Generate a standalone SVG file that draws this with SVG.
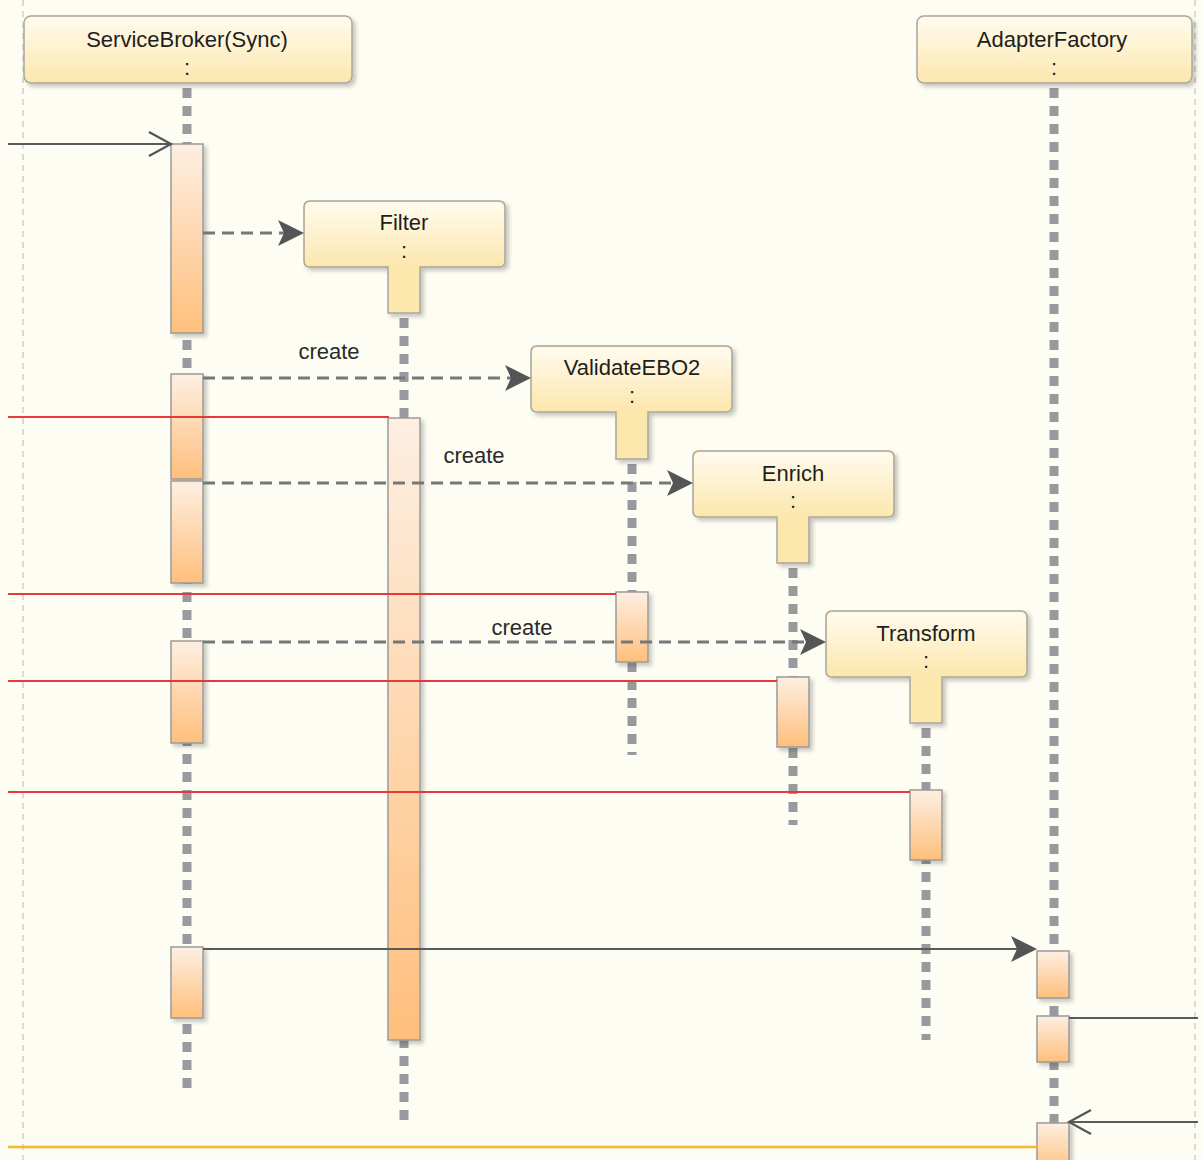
<svg xmlns="http://www.w3.org/2000/svg" width="1203" height="1160" viewBox="0 0 1203 1160">
<defs>
<linearGradient id="gHead" x1="0" y1="0" x2="0" y2="1">
<stop offset="0" stop-color="#FFFBEE"/>
<stop offset="1" stop-color="#FCE7AE"/>
</linearGradient>
<linearGradient id="gAct" x1="0" y1="0" x2="0" y2="1">
<stop offset="0" stop-color="#FDEFE2"/>
<stop offset="1" stop-color="#FFBF7C"/>
</linearGradient>
<filter id="sh" x="-20%" y="-20%" width="150%" height="150%">
<feDropShadow dx="3" dy="3" stdDeviation="2" flood-color="#000" flood-opacity="0.22"/>
</filter>
<marker id="mFill" markerUnits="userSpaceOnUse" markerWidth="28" markerHeight="28" refX="16" refY="13" orient="auto" viewBox="0 0 28 26">
<path d="M0,0 L26,13 L0,26 L6,13 Z" fill="#555558"/>
</marker>
<marker id="mOpen" markerUnits="userSpaceOnUse" markerWidth="28" markerHeight="30" refX="23" refY="13" orient="auto" viewBox="0 0 28 26">
<path d="M1,1 L23,13 L1,25" fill="none" stroke="#555558" stroke-width="2.2"/>
</marker>
<style>
.hd{fill:url(#gHead);stroke:#A9A79C;stroke-width:1.5;filter:url(#sh)}
.tl{fill:#FCE7AC;stroke:#A9A79C;stroke-width:1.5;filter:url(#sh)}
.hi{fill:url(#gHead);stroke:none}
.life{stroke:#9A9A9E;stroke-width:9;stroke-dasharray:10 8;fill:none}
.act{fill:url(#gAct);stroke:#9A9A9A;stroke-width:1.5;filter:url(#sh)}
.t{font-family:"Liberation Sans",Arial,sans-serif;font-size:22px;fill:#1E1E1E;text-anchor:middle}
.c{font-family:"Liberation Sans",Arial,sans-serif;font-size:22px;fill:#2A2A2A;text-anchor:middle}
.dash{stroke:#777779;stroke-width:3;stroke-dasharray:12 7;fill:none}
.sol{stroke:#5A5A5C;stroke-width:1.8;fill:none}
.red{stroke:#E83838;stroke-width:2;fill:none}
.org{stroke:#F3B730;stroke-width:2.5;fill:none}
.frame{stroke:#CFCFC8;stroke-width:1.5;stroke-dasharray:6 5;fill:none}
</style>
</defs>
<rect x="0" y="0" width="1203" height="1160" fill="#FDFDF3"/>
<line class="frame" x1="23" y1="0" x2="23" y2="1160"/>
<line class="frame" x1="1195" y1="0" x2="1195" y2="1160"/>

<g id="ServiceBroker">
<line class="life" x1="187" y1="88" x2="187" y2="1095"/>
<rect class="hd" x="24" y="16" width="328" height="67" rx="7"/>
<text class="t" x="187" y="47">ServiceBroker(Sync)</text>
<text class="t" x="187" y="75">:</text>
<rect class="act" x="171" y="144" width="32" height="189"/>
<rect class="act" x="171" y="374" width="32" height="105"/>
<rect class="act" x="171" y="481" width="32" height="102"/>
<rect class="act" x="171" y="641" width="32" height="102"/>
<rect class="act" x="171" y="947" width="32" height="71"/>
</g>

<g id="AdapterFactory">
<line class="life" x1="1054" y1="88" x2="1054" y2="1160"/>
<rect class="hd" x="917" y="16" width="275" height="67" rx="7"/>
<text class="t" x="1052" y="47">AdapterFactory</text>
<text class="t" x="1054" y="75">:</text>
<rect class="act" x="1037" y="951" width="32" height="47"/>
<rect class="act" x="1037" y="1016" width="32" height="46"/>
<rect class="act" x="1037" y="1123" width="32" height="50"/>
</g>

<g id="Filter">
<line class="life" x1="404" y1="318" x2="404" y2="1120"/>
<path class="tl" d="M310,201 H499 Q505,201 505,207 V261 Q505,267 499,267 H420 V313 H388 V267 H310 Q304,267 304,261 V207 Q304,201 310,201 Z"/>
<rect class="hi" x="305" y="202" width="199" height="64" rx="6"/>
<text class="t" x="404" y="230">Filter</text>
<text class="t" x="404" y="258">:</text>
<rect class="act" x="388" y="418" width="32" height="622"/>
</g>

<g id="ValidateEBO2">
<line class="life" x1="632" y1="464" x2="632" y2="755"/>
<path class="tl" d="M537,346 H726 Q732,346 732,352 V406 Q732,412 726,412 H648 V459 H616 V412 H537 Q531,412 531,406 V352 Q531,346 537,346 Z"/>
<rect class="hi" x="532" y="347" width="199" height="64" rx="6"/>
<text class="t" x="632" y="375">ValidateEBO2</text>
<text class="t" x="632" y="403">:</text>
<rect class="act" x="616" y="592" width="32" height="70"/>
</g>

<g id="Enrich">
<line class="life" x1="793" y1="568" x2="793" y2="825"/>
<path class="tl" d="M699,451 H888 Q894,451 894,457 V511 Q894,517 888,517 H809 V563 H777 V517 H699 Q693,517 693,511 V457 Q693,451 699,451 Z"/>
<rect class="hi" x="694" y="452" width="199" height="64" rx="6"/>
<text class="t" x="793" y="481">Enrich</text>
<text class="t" x="793" y="508">:</text>
<rect class="act" x="777" y="677" width="32" height="70"/>
</g>

<g id="Transform">
<line class="life" x1="926" y1="728" x2="926" y2="1040"/>
<path class="tl" d="M832,611 H1021 Q1027,611 1027,617 V671 Q1027,677 1021,677 H942 V723 H910 V677 H832 Q826,677 826,671 V617 Q826,611 832,611 Z"/>
<rect class="hi" x="827" y="612" width="199" height="64" rx="6"/>
<text class="t" x="926" y="641">Transform</text>
<text class="t" x="926" y="668">:</text>
<rect class="act" x="910" y="790" width="32" height="70"/>
</g>

<g id="connectors">
<line class="sol" x1="8" y1="144" x2="171" y2="144" marker-end="url(#mOpen)"/>
<line class="dash" x1="203" y1="233" x2="294" y2="233" marker-end="url(#mFill)"/>
<line class="dash" x1="203" y1="378" x2="521" y2="378" marker-end="url(#mFill)"/>
<text class="c" x="329" y="359">create</text>
<line class="red" x1="8" y1="417" x2="389" y2="417"/>
<line class="dash" x1="203" y1="483" x2="683" y2="483" marker-end="url(#mFill)"/>
<text class="c" x="474" y="463">create</text>
<line class="red" x1="8" y1="594" x2="616" y2="594"/>
<line class="dash" x1="203" y1="642" x2="816" y2="642" marker-end="url(#mFill)"/>
<text class="c" x="522" y="635">create</text>
<line class="red" x1="8" y1="681" x2="777" y2="681"/>
<line class="red" x1="8" y1="792" x2="910" y2="792"/>
<line class="sol" x1="203" y1="949" x2="1027" y2="949" marker-end="url(#mFill)"/>
<line class="sol" x1="1069" y1="1018" x2="1198" y2="1018"/>
<line class="sol" x1="1198" y1="1122" x2="1069" y2="1122" marker-end="url(#mOpen)"/>
<line class="org" x1="8" y1="1147" x2="1037" y2="1147"/>
</g>
</svg>
